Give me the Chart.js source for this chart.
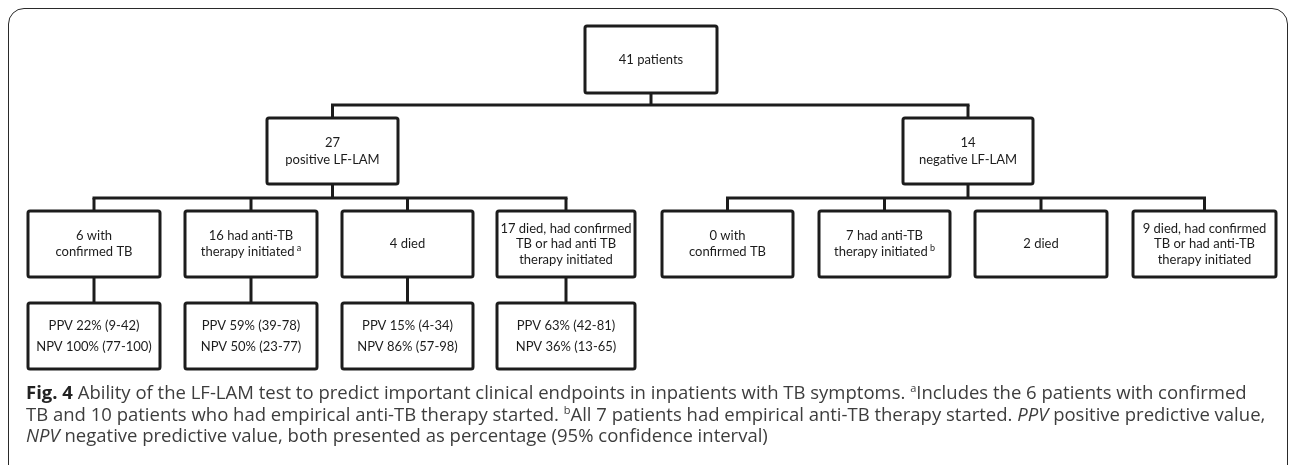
<!DOCTYPE html>
<html lang="en">

<head>
    <meta charset="UTF-8">
    <script src="https://cdn.jsdelivr.net/npm/chart.js"></script>
    <title>Fig. 4</title>
    <style>
        body {
            margin: 0;
            background: #fff;
        }

        .frame {
            position: absolute;
            left: 8px;
            top: 8px;
            width: 1280px;
            height: 490px;
            border: 1.5px solid #2a2a2a;
            border-radius: 16px;
            box-sizing: border-box;
        }

        #flow {
            position: absolute;
            left: 0;
            top: 0;
        }

        .caption {
            position: absolute;
            left: 26px;
            top: 381px;
            font-family: "Open Sans", sans-serif;
            font-size: 18.5px;
            line-height: 21.5px;
            color: #3d3d3d;
            white-space: nowrap;
        }

        .caption b {
            color: #222;
        }

        .caption sup {
            font-size: 11px;
            line-height: 0;
            vertical-align: 7px;
        }
    </style>
</head>

<body>
    <div class="frame"></div>
    <canvas id="flow" width="1292" height="465"></canvas>
    <div class="caption">
        <div><b>Fig. 4</b> Ability of the LF-LAM test to predict important clinical endpoints in inpatients with TB symptoms. <sup>a</sup>Includes the 6 patients with confirmed</div>
        <div>TB and 10 patients who had empirical anti-TB therapy started. <sup>b</sup>All 7 patients had empirical anti-TB therapy started. <i>PPV</i> positive predictive value,</div>
        <div><i>NPV</i> negative predictive value, both presented as percentage (95% confidence interval)</div>
    </div>
</body>

</html>

<script>
    // box texts
    const rootLabel = ['41 patients'];
    const groupLabels = [['27', 'positive LF-LAM'], ['14', 'negative LF-LAM']];

    const positiveEndpoints = [
        ['6 with', 'confirmed TB'],
        ['16 had anti-TB', 'therapy initiated'],
        ['4 died'],
        ['17 died, had confirmed', 'TB or had anti TB', 'therapy initiated']
    ];
    const positiveNotes = ['', 'a', '', ''];

    const negativeEndpoints = [
        ['0 with', 'confirmed TB'],
        ['7 had anti-TB', 'therapy initiated'],
        ['2 died'],
        ['9 died, had confirmed', 'TB or had anti-TB', 'therapy initiated']
    ];
    const negativeNotes = ['', 'b', '', ''];

    // PPV / NPV (%) with 95% CI, for the positive LF-LAM endpoints
    const ppvValues = [22, 59, 15, 63];
    const ppvCI = ['9-42', '39-78', '4-34', '42-81'];
    const npvValues = [100, 50, 86, 36];
    const npvCI = ['77-100', '23-77', '57-98', '13-65'];

    // layout in scale units (the axes run 0..1292 and 0..465)
    const layout = {
        rootCol: [585, 717],
        groupCols: [[267, 398], [903, 1033]],
        posCols: [[28, 160], [185, 317], [342, 473], [497, 635]],
        negCols: [[662, 793], [819, 950], [975, 1107], [1133, 1276]],
        rootRow: [26, 93],
        groupRow: [118, 184],
        endRow: [211, 277],
        valueRow: [303, 369],
        bus1: 105,
        bus2: 198
    };

    const boxFont = '13px Lato';
    const inkColor = '#1c1c1c';

    const flowPlugin = {
        id: 'flow',
        afterDraw(chart) {
            const ctx = chart.ctx;
            const px = v => chart.scales.x.getPixelForValue(v);
            const py = v => chart.scales.y.getPixelForValue(v);
            const mid = c => (c[0] + c[1]) / 2;

            ctx.save();
            ctx.strokeStyle = inkColor;
            ctx.lineWidth = 3;

            function line(x1, y1, x2, y2) {
                ctx.beginPath();
                ctx.moveTo(px(x1), py(y1));
                ctx.lineTo(px(x2), py(y2));
                ctx.stroke();
            }

            function box(col, row, lines, gap, note) {
                const x = px(col[0]), y = py(row[0]);
                const w = px(col[1]) - x, h = py(row[1]) - y;
                ctx.beginPath();
                ctx.roundRect(x, y, w, h, 2);
                ctx.stroke();

                ctx.fillStyle = inkColor;
                ctx.textAlign = 'left';
                ctx.textBaseline = 'middle';
                const cx = x + w / 2;
                const cy = y + h / 2;
                lines.forEach((t, i) => {
                    const ly = cy + (i - (lines.length - 1) / 2) * gap;
                    ctx.font = boxFont;
                    const tw = ctx.measureText(t).width;
                    let extra = 0;
                    const isLast = i === lines.length - 1;
                    if (note && isLast) {
                        ctx.font = '9px Lato';
                        extra = ctx.measureText(' ' + note).width;
                    }
                    const sx = cx - (tw + extra) / 2;
                    ctx.font = boxFont;
                    ctx.fillText(t, sx, ly);
                    if (note && isLast) {
                        ctx.font = '9px Lato';
                        ctx.fillText(' ' + note, sx + tw, ly - 4);
                    }
                });
            }

            // root and link to groups
            const rootX = mid(layout.rootCol);
            const g0 = mid(layout.groupCols[0]), g1 = mid(layout.groupCols[1]);
            box(layout.rootCol, layout.rootRow, rootLabel, 0);
            line(rootX, layout.rootRow[1], rootX, layout.bus1);
            line(g0 - 1.5, layout.bus1, g1 + 1.5, layout.bus1);

            const sides = [
                { cols: layout.posCols, labels: positiveEndpoints, notes: positiveNotes },
                { cols: layout.negCols, labels: negativeEndpoints, notes: negativeNotes }
            ];

            sides.forEach((side, s) => {
                const gc = layout.groupCols[s];
                const gx = mid(gc);
                line(gx, layout.bus1, gx, layout.groupRow[0]);
                box(gc, layout.groupRow, groupLabels[s], 17);

                line(gx, layout.groupRow[1], gx, layout.bus2);
                const first = mid(side.cols[0]);
                const last = mid(side.cols[side.cols.length - 1]);
                line(first - 1.5, layout.bus2, last + 1.5, layout.bus2);

                side.cols.forEach((c, i) => {
                    const cx = mid(c);
                    line(cx, layout.bus2, cx, layout.endRow[0]);
                    const lines = side.labels[i];
                    box(c, layout.endRow, lines, lines.length > 2 ? 15.5 : 16, side.notes[i]);
                });
            });

            // predictive values under the positive endpoints
            layout.posCols.forEach((c, i) => {
                const cx = mid(c);
                line(cx, layout.endRow[1], cx, layout.valueRow[0]);
                box(c, layout.valueRow, [
                    'PPV ' + ppvValues[i] + '% (' + ppvCI[i] + ')',
                    'NPV ' + npvValues[i] + '% (' + npvCI[i] + ')'
                ], 21);
            });

            ctx.restore();
        }
    };

    new Chart(document.getElementById('flow').getContext('2d'), {
        type: 'scatter',
        data: { datasets: [{ data: [], pointRadius: 0 }] },
        options: {
            responsive: false,
            animation: false,
            layout: { padding: 0 },
            plugins: { legend: { display: false }, tooltip: { enabled: false } },
            scales: {
                x: { type: 'linear', min: 0, max: 1292, display: false },
                y: { type: 'linear', min: 0, max: 465, reverse: true, display: false }
            }
        },
        plugins: [flowPlugin]
    });
</script>
